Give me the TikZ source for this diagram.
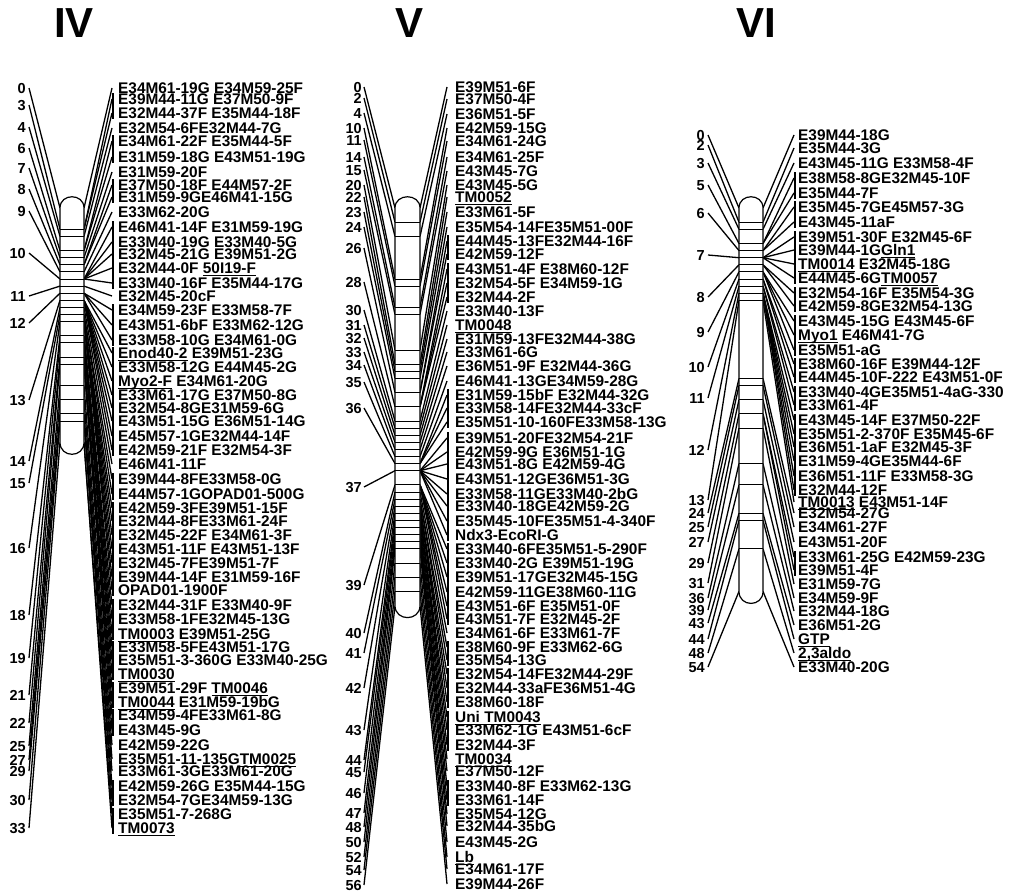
\documentclass[tikz,border=0pt]{standalone}
\usepackage{fontspec}
\setmainfont{Liberation Sans}
\usetikzlibrary{positioning}
\newcommand{\ulab}[1]{\underline{\smash{#1}}}

\begin{document}
\begin{tikzpicture}[x=1pt,y=-1pt]
\tikzset{
  lbl/.style={anchor=base west,inner sep=0pt,font=\fontsize{15.4}{15}\selectfont\bfseries},
  num/.style={anchor=base east,inner sep=0pt,font=\fontsize{14.5}{15}\selectfont\bfseries},
  grp/.style={anchor=base,inner sep=0pt,font=\fontsize{42}{42}\selectfont\bfseries},
  con/.style={line width=1.3pt},
  chrom/.style={line width=1.2pt,fill=white},
  tick/.style={line width=0.9pt}
}
\useasboundingbox (0,0) rectangle (1010,894);

\node[grp] (h4) at (74,37) {IV};
\node[grp] (h5) at (410,37) {V};
\node[grp] (h6) at (756,37) {VI};

% group IV
\foreach \p/\y in {0/88,3/105,4/127,6/148,7/168,8/189,9/211,10/253,11/296,12/323,13/400,14/461,15/483,16/548,18/615,19/658,21/695,22/723,25/746,27/760,29/771,30/800,33/828}{
  \node[num] (n4-\p) at (26,\y+5.5) {\p};
  \coordinate (b4-\p) at (60,{208+7.1*\p});
  \draw[con] (29,\y) -- (b4-\p);
}
\foreach \y/\p/\t in {88/0/{E34M61-19G E34M59-25F},99/3/{E39M44-11G E37M50-9F},113/3/{E32M44-37F E35M44-18F},
  128/4/{E32M54-6FE32M44-7G},141/6/{E34M61-22F E35M44-5F},157/6/{E31M59-18G E43M51-19G},172/7/{E31M59-20F},
  185/8/{E37M50-18F E44M57-2F},197/8/{E31M59-9GE46M41-15G},212/9/{E33M62-20G},227/10/{E46M41-14F E31M59-19G},
  242/10/{E33M40-19G E33M40-5G},254/10/{E32M45-21G E39M51-2G},268/10/{E32M44-0F \ulab{50I19-F}},
  283/10/{E33M40-16F E35M44-17G},296/11/{E32M45-20cF},310/12/{E34M59-23F E33M58-7F},325/12/{E43M51-6bF E33M62-12G},
  340/12/{E33M58-10G E34M61-0G},353/13/{\ulab{Enod40-2} E39M51-23G},367/13/{E33M58-12G E44M45-2G},
  381/13/{\ulab{Myo2-F} E34M61-20G},395/13/{E33M61-17G E37M50-8G},408/13/{E32M54-8GE31M59-6G},
  421/13/{E43M51-15G E36M51-14G},436/13/{E45M57-1GE32M44-14F},450/13/{E42M59-21F E32M54-3F},464/14/{E46M41-11F},
  479/15/{E39M44-8FE33M58-0G},494/15/{E44M57-1GOPAD01-500G},508/16/{E42M59-3FE39M51-15F},521/16/{E32M44-8FE33M61-24F},
  535/16/{E32M45-22F E34M61-3F},549/16/{E43M51-11F E43M51-13F},563/16/{E32M45-7FE39M51-7F},577/16/{E39M44-14F E31M59-16F},
  590/16/{OPAD01-1900F},605/18/{E32M44-31F E33M40-9F},619/18/{E33M58-1FE32M45-13G},634/18/{\ulab{TM0003} E39M51-25G},
  647/19/{E33M58-5FE43M51-17G},660/19/{E35M51-3-360G E33M40-25G},674/19/{\ulab{TM0030}},688/21/{E39M51-29F \ulab{TM0046}},
  702/21/{\ulab{TM0044} E31M59-19bG},715/22/{E34M59-4FE33M61-8G},730/22/{E43M45-9G},745/25/{E42M59-22G},
  759/27/{E35M51-11-135G\ulab{TM0025}},771/29/{E33M61-3GE33M61-20G},786/30/{E42M59-26G E35M44-15G},
  800/30/{E32M54-7GE34M59-13G},814/33/{E35M51-7-268G},828/33/{\ulab{TM0073}}}{
  \node[lbl] (l4-\y) at (118,\y+5.5) {\t};
  \coordinate (r4-\y) at (112,\y);
  \draw[con] (84,{208+7.1*\p}) -- (r4-\y);
}
\foreach \a/\b in {99/113,141/157,185/197,227/283,310/340,353/450,479/494,508/590,605/634,647/674,688/702,715/730,786/800,814/828}
  \draw[con] (113,\a-6) -- (113,\b+6);
\draw[chrom] (60,208) -- (60,442.3) .. controls (60,458.3) and (84,458.3) .. (84,442.3)
  -- (84,208) .. controls (84,193) and (60,193) .. (60,208) -- cycle;
\foreach \p in {3,4,6,7,8,9,10,11,12,13,14,15,16,18,19,21,22,25,27,29,30}
  \draw[tick] (60,{208+7.1*\p}) -- (84,{208+7.1*\p});

% group V
\foreach \p/\y in {0/87,2/98,4/113,10/128,11/140,14/157,15/170,20/185,22/197,23/212,24/227,26/248,28/282,30/310,31/325,32/338,33/352,34/365,35/382,36/408,37/487,39/585,40/633,41/653,42/688,43/730,44/760,45/772,46/793,47/813,48/827,50/842,52/857,54/870,56/885}{
  \node[num] (n5-\p) at (362,\y+5.5) {\p};
  \coordinate (b5-\p) at (395,{208+7.1*\p});
  \draw[con] (364,\y) -- (b5-\p);
}
\foreach \y/\p/\t in {87/0/{E39M51-6F},99/2/{E37M50-4F},114/4/{E36M51-5F},128/10/{E42M59-15G},141/11/{E34M61-24G},
  157/14/{E34M61-25F},171/15/{E43M45-7G},185/20/{E43M45-5G},197/22/{\ulab{TM0052}},212/23/{E33M61-5F},
  227/24/{E35M54-14FE35M51-00F},241/26/{E44M45-13FE32M44-16F},254/26/{E42M59-12F},269/28/{E43M51-4F E38M60-12F},
  283/28/{E32M54-5F E34M59-1G},297/28/{E32M44-2F},311/30/{E33M40-13F},325/31/{\ulab{TM0048}},
  339/32/{E31M59-13FE32M44-38G},352/33/{E33M61-6G},366/34/{E36M51-9F E32M44-36G},381/35/{E46M41-13GE34M59-28G},
  395/36/{E31M59-15bF E32M44-32G},408/36/{E33M58-14FE32M44-33cF},422/36/{E35M51-10-160FE33M58-13G},
  438/37/{E39M51-20FE32M54-21F},452/37/{E42M59-9G E36M51-1G},464/37/{E43M51-8G E42M59-4G},479/37/{E43M51-12GE36M51-3G},
  494/37/{E33M58-11GE33M40-2bG},506/37/{E33M40-18GE42M59-2G},521/37/{E35M45-10FE35M51-4-340F},535/37/{Ndx3-EcoRI-G},
  549/39/{E33M40-6FE35M51-5-290F},563/39/{E33M40-2G E39M51-19G},577/39/{E39M51-17GE32M45-15G},592/39/{E42M59-11GE38M60-11G},
  606/39/{E43M51-6F E35M51-0F},619/39/{E43M51-7F E32M45-2F},633/40/{E34M61-6F E33M61-7F},647/41/{E38M60-9F E33M62-6G},
  660/41/{E35M54-13G},674/42/{E32M54-14FE32M44-29F},688/42/{E32M44-33aFE36M51-4G},702/42/{E38M60-18F},
  717/43/{\ulab{Uni TM0043}},730/43/{E33M62-1G E43M51-6cF},745/43/{E32M44-3F},759/44/{\ulab{TM0034}},
  771/45/{E37M50-12F},786/46/{E33M40-8F E33M62-13G},800/46/{E33M61-14F},814/47/{E35M54-12G},826/48/{E32M44-35bG},
  842/50/{E43M45-2G},857/52/{\ulab{Lb}},869/54/{E34M61-17F},884/56/{E39M44-26F}}{
  \node[lbl] (l5-\y) at (455,\y+5.5) {\t};
  \coordinate (r5-\y) at (447,\y);
  \draw[con] (420,{208+7.1*\p}) -- (r5-\y);
}
\foreach \a/\b in {241/254,269/297,395/422,438/535,549/619,647/660,674/702,717/745,786/800}
  \draw[con] (448,\a-6) -- (448,\b+6);
\draw[chrom] (395,208) -- (395,605.6) .. controls (395,621.6) and (420,621.6) .. (420,605.6)
  -- (420,208) .. controls (420,193) and (395,193) .. (395,208) -- cycle;
\foreach \p in {2,4,10,11,14,15,20,22,23,24,26,28,30,31,32,33,34,35,36,37,39,40,41,42,43,44,45,46,47,48,50,52,54}
  \draw[tick] (395,{208+7.1*\p}) -- (420,{208+7.1*\p});

% group VI
\foreach \p/\y in {0/135,2/145,3/163,5/185,6/213,7/255,8/297,9/332,10/367,11/398,12/450,13/500,24/513,25/527,27/542,29/563,31/583,36/598,39/610,43/623,44/639,48/653,54/667}{
  \node[num] (n6-\p) at (705,\y+5.5) {\p};
  \coordinate (b6-\p) at (739,{208+7.1*\p});
  \draw[con] (708,\y) -- (b6-\p);
}
\foreach \y/\p/\t in {135/0/{E39M44-18G},148/2/{E35M44-3G},163/3/{E43M45-11G E33M58-4F},178/5/{E38M58-8GE32M45-10F},
  193/5/{E35M44-7F},207/6/{E35M45-7GE45M57-3G},222/6/{E43M45-11aF},237/7/{E39M51-30F E32M45-6F},
  250/7/{E39M44-1G\ulab{Gln1}},264/7/{\ulab{TM0014} E32M45-18G},278/7/{E44M45-6G\ulab{TM0057}},
  293/8/{E32M54-16F E35M54-3G},306/8/{E42M59-8GE32M54-13G},321/9/{E43M45-15G E43M45-6F},335/9/{\ulab{Myo1} E46M41-7G},
  350/9/{E35M51-aG},364/10/{E38M60-16F E39M44-12F},377/10/{E44M45-10F-222 E43M51-0F},392/11/{E33M40-4GE35M51-4aG-330},
  405/11/{E33M61-4F},420/12/{E43M45-14F E37M50-22F},434/12/{E35M51-2-370F E35M45-6F},447/12/{E36M51-1aF E32M45-3F},
  461/12/{E31M59-4GE35M44-6F},476/12/{E36M51-11F E33M58-3G},490/12/{E32M44-12F},502/13/{\ulab{TM0013} E43M51-14F},
  513/24/{E32M54-27G},527/25/{E34M61-27F},542/27/{E43M51-20F},557/29/{E33M61-25G E42M59-23G},570/29/{E39M51-4F},
  584/31/{E31M59-7G},598/36/{E34M59-9F},611/39/{E32M44-18G},625/43/{E36M51-2G},639/44/{\ulab{GTP}},
  653/48/{\ulab{2,3aldo}},667/54/{E33M40-20G}}{
  \node[lbl] (l6-\y) at (798,\y+5.5) {\t};
  \coordinate (r6-\y) at (794,\y);
  \draw[con] (763,{208+7.1*\p}) -- (r6-\y);
}
\foreach \a/\b in {178/193,207/222,237/278,293/306,321/350,364/377,392/405,420/490,557/570}
  \draw[con] (795,\a-6) -- (795,\b+6);
\draw[chrom] (739,208) -- (739,591.4) .. controls (739,607.4) and (763,607.4) .. (763,591.4)
  -- (763,208) .. controls (763,193) and (739,193) .. (739,208) -- cycle;
\foreach \p in {2,3,5,6,7,8,9,10,11,12,13,24,25,27,29,31,36,39,43,44,48}
  \draw[tick] (739,{208+7.1*\p}) -- (763,{208+7.1*\p});
\end{tikzpicture}
\end{document}
